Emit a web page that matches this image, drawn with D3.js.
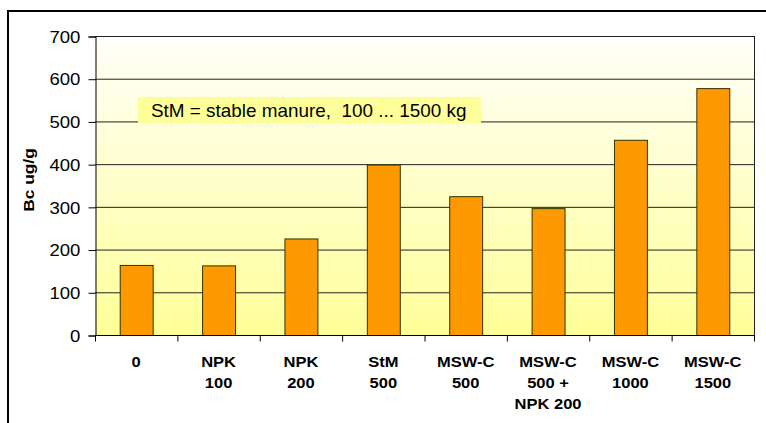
<!DOCTYPE html>
<html><head><meta charset="utf-8">
<script src="https://cdn.jsdelivr.net/npm/d3@7"></script>
<style>body{margin:0;background:#fff}svg{display:block}</style>
</head><body>
<script>
const categories = [["0"],["NPK","100"],["NPK","200"],["StM","500"],["MSW-C","500"],["MSW-C","500 +","NPK 200"],["MSW-C","1000"],["MSW-C","1500"]];
const values = [164, 163, 226, 399, 325, 297, 457, 578];
const yTicks = [0,100,200,300,400,500,600,700];
const yTitle = "Bc ug/g";
const note = "StM = stable manure,  100 ... 1500 kg";

const FONT="Arial, 'Liberation Sans', sans-serif";
const W=766,H=423;
const svg=d3.select("body").append("svg").attr("width",W).attr("height",H);
const defs=svg.append("defs");
const g=defs.append("linearGradient").attr("id","bg").attr("x1",0).attr("y1",0).attr("x2",0).attr("y2",1);
g.append("stop").attr("offset","0%").attr("stop-color","#fffffa");
g.append("stop").attr("offset","100%").attr("stop-color","#ffff99");

// outer frame
svg.append("rect").attr("x",8).attr("y",11).attr("width",W).attr("height",H).attr("fill","#fff").attr("stroke","#000").attr("stroke-width",2);

const L=95,R=754,T=36,B=335;
const x=d3.scaleBand().domain(d3.range(categories.length)).range([L,R]).paddingInner(0.6).paddingOuter(0.3);
const xc=d3.scaleBand().domain(d3.range(categories.length)).range([L,R]);
const y=d3.scaleLinear().domain([0,700]).range([B,T]);

svg.append("rect").attr("x",L).attr("y",T).attr("width",R-L).attr("height",B-T).attr("fill","url(#bg)");

// grid
svg.append("g").selectAll("line").data(yTicks.filter(d=>d>0)).join("line")
 .attr("x1",L).attr("x2",R).attr("y1",d=>y(d)+0.5).attr("y2",d=>y(d)+0.5).attr("stroke","#222").attr("stroke-width",1);
// right border
svg.append("line").attr("x1",R+0.5).attr("x2",R+0.5).attr("y1",T).attr("y2",B).attr("stroke","#222");

// note
svg.append("rect").attr("x",138).attr("y",97).attr("width",343).attr("height",26).attr("fill","#ffff99");
svg.append("text").attr("transform","translate(151,116.5) scale(1.05,1)").attr("font-family",FONT).attr("font-size",18).attr("fill","#000").attr("xml:space","preserve").style("white-space","pre").text(note);

// bars
svg.append("g").selectAll("rect").data(values).join("rect")
 .attr("x",(d,i)=>x(i)+0.5).attr("width",x.bandwidth()).attr("y",d=>y(d)+0.5).attr("height",d=>B-y(d))
 .attr("fill","#ff9900").attr("stroke","#333300").attr("stroke-width",1);

// y axis
const ya=svg.append("g").attr("transform",`translate(${L+0.5},0.5)`)
 .call(d3.axisLeft(y).tickValues(yTicks).tickSize(7).tickPadding(6));
ya.select(".domain").attr("stroke","#000");
ya.selectAll(".tick line").attr("stroke","#000");
ya.selectAll("text").attr("font-family",FONT).attr("font-size",16).attr("fill","#000").attr("transform","scale(1.16,1)").attr("dy","0.36em");

// x axis
const xa=svg.append("g").attr("transform",`translate(0,${B+0.5})`);
xa.append("line").attr("x1",L).attr("x2",R+1).attr("stroke","#000");
xa.selectAll(".tk").data(d3.range(categories.length+1)).join("line")
 .attr("x1",i=>(i<categories.length?xc(i):R)+0.5).attr("x2",i=>(i<categories.length?xc(i):R)+0.5).attr("y1",0).attr("y2",6).attr("stroke","#000");
const lab=svg.append("g").selectAll("g").data(categories).join("g")
 .attr("transform",(d,i)=>`translate(${xc(i)+xc.bandwidth()/2},367) scale(1.18,1)`);
lab.each(function(d){const t=d3.select(this).append("text").attr("text-anchor","middle").attr("font-family",FONT).attr("font-weight","bold").attr("font-size",14).attr("fill","#000");
 d.forEach((s,k)=>t.append("tspan").attr("x",0).attr("y",k*21).text(s));});

// y title
svg.append("text").attr("transform","translate(34,180) rotate(-90) scale(1.12,1)").attr("text-anchor","middle")
 .attr("font-family",FONT).attr("font-weight","bold").attr("font-size",15.5).text(yTitle);
</script>
</body></html>
